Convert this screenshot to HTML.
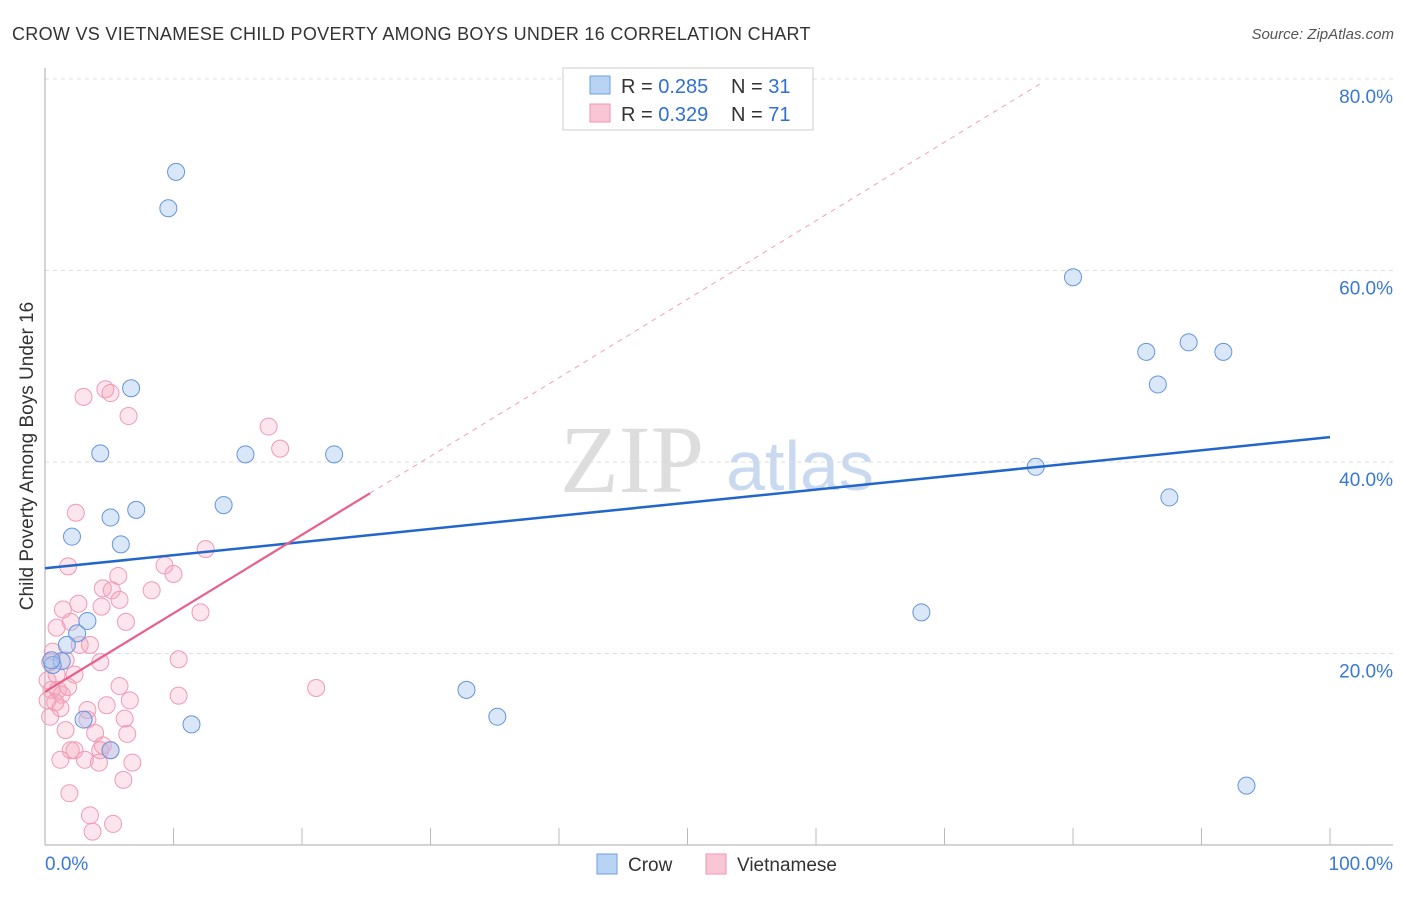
<!DOCTYPE html>
<html><head><meta charset="utf-8"><style>
body{margin:0;background:#fff;font-family:"Liberation Sans",sans-serif}
</style></head><body>
<svg id="c" width="1406" height="892" xmlns="http://www.w3.org/2000/svg">
<text x="12" y="40" font-size="18" fill="#333" letter-spacing="0.3">CROW VS VIETNAMESE CHILD POVERTY AMONG BOYS UNDER 16 CORRELATION CHART</text>
<text x="1394" y="39" font-size="15" fill="#555" font-style="italic" text-anchor="end">Source: ZipAtlas.com</text>
<text x="632" y="492" font-size="96" fill="#ddd" font-family="Liberation Serif" text-anchor="middle">ZIP</text>
<text x="800" y="490" font-size="70" fill="#c9d9ef" text-anchor="middle">atlas</text>
<text transform="translate(33,456) rotate(-90)" font-size="19" fill="#333" text-anchor="middle">Child Poverty Among Boys Under 16</text>
<g id="grid"></g><g id="pts"></g><g id="lines"></g>
<g>
<rect x="563" y="68" width="250" height="62" fill="#fff" stroke="#ccc"/>
<rect x="590" y="76" width="20" height="18" fill="#b8d4f5" stroke="#6d9ee0"/>
<rect x="590" y="104" width="20" height="18" fill="#f9c6d6" stroke="#ee94b0"/>
<text x="621" y="93" font-size="20" fill="#333">R = <tspan fill="#2f6fd6">0.285</tspan></text>
<text x="731" y="93" font-size="20" fill="#333">N = <tspan fill="#2f6fd6">31</tspan></text>
<text x="621" y="121" font-size="20" fill="#333">R = <tspan fill="#2f6fd6">0.329</tspan></text>
<text x="731" y="121" font-size="20" fill="#333">N = <tspan fill="#2f6fd6">71</tspan></text>
</g>
<g>
<rect x="597" y="854" width="20" height="20" fill="#b8d4f5" stroke="#6d9ee0"/>
<text x="628" y="871" font-size="19" fill="#333">Crow</text>
<rect x="706" y="854" width="20" height="20" fill="#f9c6d6" stroke="#ee94b0"/>
<text x="737" y="871" font-size="19" fill="#333">Vietnamese</text>
</g>
</svg>
<script>
const yTicks=[20,40,60,80];
const xTickLabels=["0.0%","100.0%"];
const crowX=[10.2,9.6,6.7,4.3,15.6,22.5,13.9,5.1,7.1,2.1,5.9,3.3,2.5,1.7,1.3,0.6,0.5,3.0,5.1,11.4,32.8,35.2,68.2,77.1,80.0,85.7,86.6,89.0,91.7,87.5,93.5];
const crowY=[70.3,66.5,47.7,40.9,40.8,40.8,35.5,34.2,35.0,32.2,31.4,23.4,22.1,20.9,19.2,18.8,19.3,13.1,9.9,12.6,16.2,13.4,24.3,39.5,59.3,51.5,48.1,52.5,51.5,36.3,6.2];
const vietX=[4.7,5.1,3.0,6.5,17.4,18.3,2.4,12.5,1.8,9.3,10.0,5.7,8.3,4.5,5.2,1.4,2.6,5.8,4.4,12.1,6.3,0.9,2.0,2.7,3.5,1.6,4.3,2.3,0.6,0.4,0.9,10.4,0.5,1.0,1.3,1.8,0.2,0.8,5.8,4.8,6.6,10.4,21.1,3.3,3.3,6.2,1.6,3.9,6.4,0.4,2.0,4.3,5.1,2.3,4.5,3.1,4.2,6.8,1.2,6.1,1.9,3.5,3.7,5.3,0.2,1.2];
const vietY=[47.6,47.2,46.8,44.8,43.7,41.4,34.7,30.9,29.1,29.2,28.3,28.1,26.6,26.8,26.6,24.6,25.2,25.6,24.9,24.3,23.3,22.7,23.3,20.9,20.9,19.3,19.1,17.8,20.2,19.1,17.8,19.4,16.2,16.2,15.7,16.5,15.1,14.9,16.6,14.6,15.1,15.6,16.4,14.1,13.1,13.2,12.0,11.7,11.6,13.4,9.9,9.9,9.9,9.9,10.4,8.9,8.6,8.6,8.9,6.8,5.4,3.1,1.4,2.2,17.2,14.3];
const crowTrend=[28.9,42.6];
const vietTrend=[16.0,0.82];
const NS="http://www.w3.org/2000/svg";
const X=v=>45+v*12.85, Y=v=>845-v*9.575;
function mk(p,t,a){const e=document.createElementNS(NS,t);for(const k in a)e.setAttribute(k,a[k]);p.appendChild(e);return e;}
const g=document.getElementById('grid');
yTicks.forEach(t=>{
 const l=mk(g,'line',{x1:45,x2:1393,y1:Y(t),y2:Y(t),stroke:'#ddd','stroke-dasharray':'4,4'});
 
 
 const tx=mk(g,'text',{x:1393,y:Y(t)+24,'font-size':19,fill:'#3a78d6','text-anchor':'end'});tx.textContent=t+'.0%';
 
 
});
const ax=mk(g,'line',{x1:45,x2:45,y1:68,y2:845,stroke:'#aaa'});


const bx=mk(g,'line',{x1:45,x2:1393,y1:845,y2:845,stroke:'#aaa'});


for(let i=1;i<=10;i++){const t=mk(g,'line',{x1:X(i*10),x2:X(i*10),y1:828,y2:845,stroke:'#bbb'});
 
 }
[[X(0),'start'],[X(100)+63,'end']].forEach((p,i)=>{const t=mk(g,'text',{x:p[0],y:870,'font-size':19,fill:'#3a78d6','text-anchor':p[1]});t.textContent=xTickLabels[i];
 
 });
const P=document.getElementById('pts');
vietX.forEach((v,i)=>{const c=mk(P,'circle',{cx:X(v),cy:Y(vietY[i]),r:8.5,fill:'rgba(244,160,188,0.28)',stroke:'#f09ab5','stroke-width':1});
 
 });
crowX.forEach((v,i)=>{const c=mk(P,'circle',{cx:X(v),cy:Y(crowY[i]),r:8.5,fill:'rgba(160,196,240,0.4)',stroke:'#6495dc','stroke-width':1});
 
 });
const L=document.getElementById('lines');
const l1=mk(L,'line',{x1:X(0),y1:Y(crowTrend[0]),x2:X(100),y2:Y(crowTrend[1]),stroke:'#2266cc','stroke-width':2.5});


const l2=mk(L,'line',{x1:X(0),y1:Y(vietTrend[0]),x2:X(25.3),y2:Y(vietTrend[0]+vietTrend[1]*25.3),stroke:'#e8608a','stroke-width':2.2});


const l3=mk(L,'line',{x1:X(25.3),y1:Y(vietTrend[0]+vietTrend[1]*25.3),x2:X(77.4),y2:Y(vietTrend[0]+vietTrend[1]*77.4),stroke:'#f0a0b8','stroke-width':1,'stroke-dasharray':'5,5'});


</script>
</body></html>
